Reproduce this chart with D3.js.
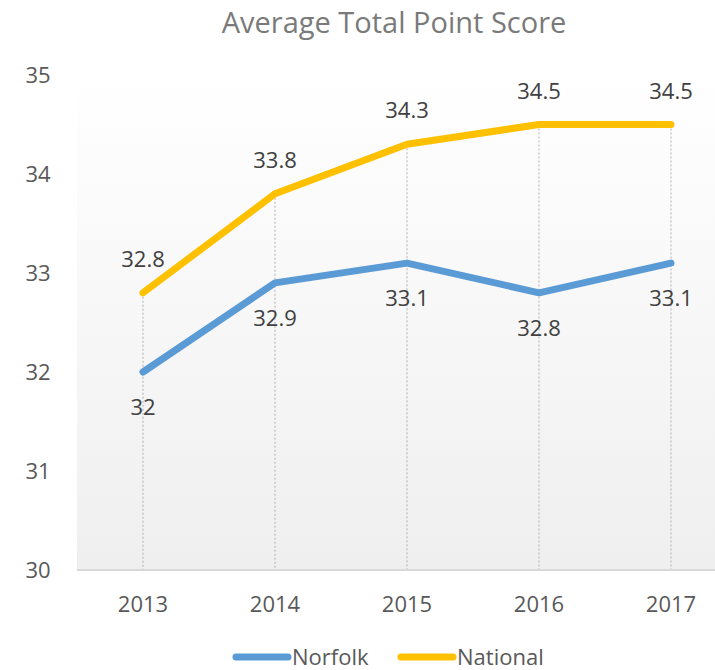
<html>
<head>
<style>
    body { margin: 0; background: #fff; }
    svg text { font-family: "Open Sans", sans-serif; }
    .tick-label { fill: #595959; font-size: 22px; }
    .data-label { fill: #404040; font-size: 22px; }
    .title { fill: #7a7a7a; font-size: 29px; }
</style>
</head>
<body>
<div id="target"></div>
<script src="https://cdnjs.cloudflare.com/ajax/libs/d3/7.8.5/d3.min.js"></script>
<script>
    var years = ['2013', '2014', '2015', '2016', '2017'];
    var norfolk = [32, 32.9, 33.1, 32.8, 33.1];
    var national = [32.8, 33.8, 34.3, 34.5, 34.5];
    var yTicks = [30, 31, 32, 33, 34, 35];

    var width = 715, height = 670;
    var plotLeft = 77, plotRight = 737, plotTop = 75, plotBottom = 570;

    var svg = d3.select('#target').append('svg')
        .attr('width', width)
        .attr('height', height);

    // plot area background, white fading to light grey
    var grad = svg.append('defs').append('linearGradient')
        .attr('id', 'bg').attr('x1', 0).attr('y1', 0).attr('x2', 0).attr('y2', 1);
    grad.append('stop').attr('offset', '0%').attr('stop-color', '#ffffff');
    grad.append('stop').attr('offset', '100%').attr('stop-color', '#efefef');

    svg.append('rect')
        .attr('x', plotLeft).attr('y', plotTop)
        .attr('width', width - plotLeft).attr('height', plotBottom - plotTop)
        .attr('fill', 'url(#bg)');

    var x = d3.scaleBand().domain(years).range([plotLeft, plotRight]);
    var y = d3.scaleLinear().domain([30, 35]).range([plotBottom, plotTop]);
    var cx = function (d) { return x(d) + x.bandwidth() / 2; };

    // title
    svg.append('text')
        .attr('class', 'title')
        .attr('x', 394).attr('y', 33)
        .attr('text-anchor', 'middle')
        .text('Average Total Point Score');

    // y tick labels
    svg.selectAll('text.ylab')
        .data(yTicks)
        .enter().append('text')
        .attr('class', 'tick-label ylab')
        .attr('x', 38).attr('y', function (d) { return y(d) + 8; })
        .attr('text-anchor', 'middle')
        .text(function (d) { return d; });

    // drop lines from the top series down to the axis
    svg.selectAll('line.drop')
        .data(years)
        .enter().append('line')
        .attr('class', 'drop')
        .attr('x1', cx).attr('x2', cx)
        .attr('y1', function (d, i) { return y(Math.max(norfolk[i], national[i])); })
        .attr('y2', plotBottom)
        .attr('stroke', '#b0b0b0')
        .attr('stroke-width', 1)
        .attr('stroke-dasharray', '2,2');

    // baseline
    svg.append('line')
        .attr('x1', plotLeft).attr('x2', width)
        .attr('y1', plotBottom).attr('y2', plotBottom)
        .attr('stroke', '#d9d9d9')
        .attr('stroke-width', 2);

    // x tick labels
    svg.selectAll('text.xlab')
        .data(years)
        .enter().append('text')
        .attr('class', 'tick-label xlab')
        .attr('x', cx).attr('y', 612)
        .attr('text-anchor', 'middle')
        .text(function (d) { return d; });

    var line = d3.line()
        .x(function (d, i) { return cx(years[i]); })
        .y(function (d) { return y(d); });

    var series = [
        { name: 'Norfolk', values: norfolk, color: '#5b9bd5', dy: 43 },
        { name: 'National', values: national, color: '#ffc000', dy: -26 }
    ];

    series.forEach(function (s) {
        svg.append('path')
            .datum(s.values)
            .attr('d', line)
            .attr('fill', 'none')
            .attr('stroke', s.color)
            .attr('stroke-width', 7)
            .attr('stroke-linecap', 'round')
            .attr('stroke-linejoin', 'round');

        svg.selectAll(null)
            .data(s.values)
            .enter().append('text')
            .attr('class', 'data-label')
            .attr('x', function (d, i) { return cx(years[i]); })
            .attr('y', function (d) { return y(d) + s.dy; })
            .attr('text-anchor', 'middle')
            .text(function (d) { return d; });
    });

    // legend
    var legendPos = [233, 398];
    series.forEach(function (s, i) {
        var g = svg.append('g').attr('transform', 'translate(' + legendPos[i] + ',657)');
        g.append('line')
            .attr('x1', 3).attr('x2', 55)
            .attr('y1', 0).attr('y2', 0)
            .attr('stroke', s.color)
            .attr('stroke-width', 7)
            .attr('stroke-linecap', 'round');
        g.append('text')
            .attr('class', 'tick-label')
            .attr('x', 59).attr('y', 8)
            .text(s.name);
    });
</script>
</body>
</html>
